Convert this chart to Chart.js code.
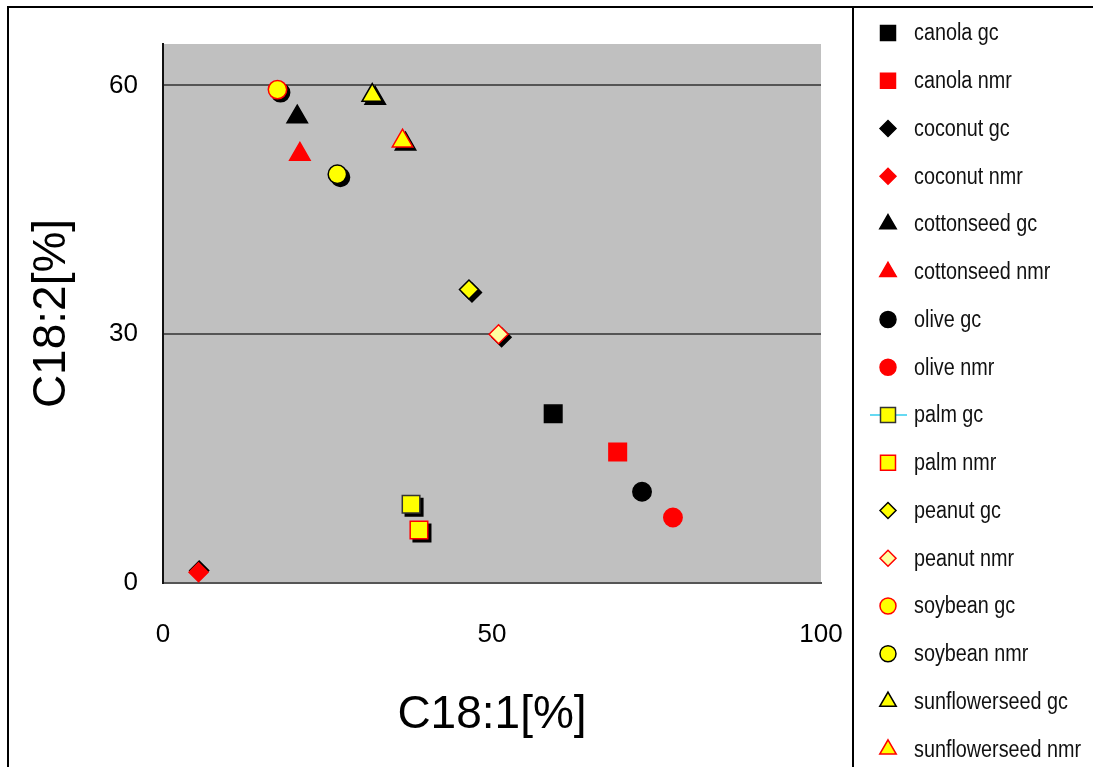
<!DOCTYPE html>
<html>
<head>
<meta charset="utf-8">
<script src="https://cdn.jsdelivr.net/npm/chart.js@4.4.1/dist/chart.umd.min.js"></script>
<style>
  html, body { margin: 0; padding: 0; background: #fff; }
  #wrap { width: 1093px; height: 767px; }
</style>
</head>
<body>
<div id="wrap"><canvas id="chart" width="1093" height="767"></canvas></div>
<script>
// series, in legend order
const seriesNames = [
    "canola gc", "canola nmr", "coconut gc", "coconut nmr",
    "cottonseed gc", "cottonseed nmr", "olive gc", "olive nmr",
    "palm gc", "palm nmr", "peanut gc", "peanut nmr",
    "soybean gc", "soybean nmr", "sunflowerseed gc", "sunflowerseed nmr"
];
// C18:1 [%] (x) and C18:2 [%] (y), one point per series
const c181 = [59.3, 69.1, 5.5, 5.4, 20.4, 20.8, 72.8, 77.5, 37.7, 38.9, 46.5, 51.0, 17.4, 26.5, 31.8, 36.4];
const c182 = [20.4, 15.8, 1.5, 1.3, 56.2, 51.7, 11.0, 7.9, 9.5, 6.4, 35.4, 30.0, 59.5, 49.3, 58.8, 53.3];
const xTicks = [0, 50, 100];
const yTicks = [0, 30, 60];

// marker look for each series
const styles = [
    { shape: "rect", fill: "#000000", edge: "#000000", shadow: false },
    { shape: "rect", fill: "#ff0000", edge: "#ff0000", shadow: false },
    { shape: "rectRot", fill: "#000000", edge: "#000000", shadow: false },
    { shape: "rectRot", fill: "#ff0000", edge: "#ff0000", shadow: false },
    { shape: "triangle", fill: "#000000", edge: "#000000", shadow: false },
    { shape: "triangle", fill: "#ff0000", edge: "#ff0000", shadow: false },
    { shape: "circle", fill: "#000000", edge: "#000000", shadow: false },
    { shape: "circle", fill: "#ff0000", edge: "#ff0000", shadow: false },
    { shape: "rect", fill: "#ffff00", edge: "#333333", shadow: true },
    { shape: "rect", fill: "#ffff00", edge: "#ff0000", shadow: true },
    { shape: "rectRot", fill: "#ffff00", edge: "#000000", shadow: true },
    { shape: "rectRot", fill: "#ffffa0", edge: "#ff0000", shadow: true },
    { shape: "circle", fill: "#ffff00", edge: "#ff0000", shadow: true },
    { shape: "circle", fill: "#ffff00", edge: "#000000", shadow: true },
    { shape: "triangle", fill: "#ffff00", edge: "#000000", shadow: true },
    { shape: "triangle", fill: "#ffff00", edge: "#ff0000", shadow: true }
];
const plotRadius = { rect: 12.4, rectRot: 9.5, triangle: 11.8, circle: 9.2 };
const legendRadius = { rect: 10.6, rectRot: 8, triangle: 9.5, circle: 8 };

const datasets = seriesNames.map((name, i) => ({
    label: name,
    data: [{ x: c181[i], y: c182[i] }],
    pointStyle: styles[i].shape,
    pointRadius: plotRadius[styles[i].shape],
    pointHoverRadius: plotRadius[styles[i].shape],
    backgroundColor: styles[i].fill,
    borderColor: styles[i].edge,
    pointBorderWidth: 1.5,
    showLine: false,
    shadow: styles[i].shadow,
    order: seriesNames.length - i  // later series on top
}));

// hard black drop shadow under the yellow markers:
// draw a black copy of the marker offset by 3px before the real one
const shadowPlugin = {
    id: "shadow",
    beforeDatasetDraw(chart, args) {
        const ds = chart.data.datasets[args.index];
        if (!ds.shadow) return;
        const ctx = chart.ctx;
        ctx.save();
        ctx.fillStyle = "#000";
        ctx.strokeStyle = "#000";
        ctx.lineWidth = 1.5;
        args.meta.data.forEach(pt => {
            Chart.helpers.drawPoint(ctx, {
                pointStyle: ds.pointStyle,
                radius: ds.pointRadius,
                rotation: 0,
                borderWidth: 1.5
            }, pt.x + 3, pt.y + 3);
        });
        ctx.restore();
    }
};

// grey plot area, outer frame and the legend box on the right
const framePlugin = {
    id: "frame",
    beforeDraw(chart) {
        const ctx = chart.ctx;
        const a = chart.chartArea;
        ctx.save();
        ctx.fillStyle = "#fff";
        ctx.fillRect(0, 0, chart.width, chart.height);
        ctx.fillStyle = "#c0c0c0";
        ctx.fillRect(a.left, a.top, a.right - a.left, a.bottom - a.top);
        ctx.restore();
    },
    afterDraw(chart) {
        const ctx = chart.ctx;
        ctx.save();
        ctx.strokeStyle = "#000";
        ctx.lineWidth = 2;
        ctx.beginPath();
        ctx.moveTo(8, chart.height);
        ctx.lineTo(8, 7);
        ctx.lineTo(chart.width, 7);
        ctx.moveTo(853, 7);
        ctx.lineTo(853, chart.height);
        ctx.stroke();

        // legend
        const x0 = 888, tx = 914, y0 = 33, step = 47.75;
        ctx.textBaseline = "middle";
        seriesNames.forEach((name, i) => {
            const y = y0 + i * step;
            const st = styles[i];
            if (name === "palm gc") {
                ctx.strokeStyle = "#33ccee";
                ctx.lineWidth = 1.5;
                ctx.beginPath();
                ctx.moveTo(870, y);
                ctx.lineTo(907, y);
                ctx.stroke();
            }
            ctx.fillStyle = st.fill;
            ctx.strokeStyle = st.edge;
            ctx.lineWidth = 1.5;
            Chart.helpers.drawPoint(ctx, {
                pointStyle: st.shape,
                radius: legendRadius[st.shape],
                rotation: 0,
                borderWidth: 1.5
            }, x0, y);
            // narrow-looking label: squeeze the text horizontally
            ctx.save();
            ctx.translate(tx, y + 1);
            ctx.scale(0.86, 1);
            ctx.font = "23px 'Liberation Sans', Arial, sans-serif";
            ctx.fillStyle = "#111";
            ctx.textAlign = "left";
            ctx.fillText(name, 0, 0);
            ctx.restore();
        });
        ctx.restore();
    }
};

const ctx = document.getElementById("chart").getContext("2d");
new Chart(ctx, {
    type: "scatter",
    data: { datasets: datasets },
    options: {
        responsive: false,
        animation: false,
        events: [],
        layout: {
            padding: { top: 44, right: 272, left: 0, bottom: 0 }
        },
        plugins: {
            legend: { display: false },
            tooltip: { enabled: false }
        },
        scales: {
            x: {
                type: "linear",
                min: 0,
                max: 100,
                afterBuildTicks: axis => { axis.ticks = xTicks.map(v => ({ value: v })); },
                afterFit: axis => { axis.height = 184; },
                grid: { drawOnChartArea: false, drawTicks: false },
                border: { color: "#555", width: 2 },
                ticks: {
                    color: "#000",
                    padding: 36,
                    font: { family: "'Liberation Sans', Arial, sans-serif", size: 26 }
                },
                title: {
                    display: true,
                    text: "C18:1[%]",
                    color: "#000",
                    padding: { top: 0, bottom: 24 },
                    font: { family: "'Liberation Sans', Arial, sans-serif", size: 46 }
                }
            },
            y: {
                type: "linear",
                min: 0,
                max: 65,
                afterBuildTicks: axis => { axis.ticks = yTicks.map(v => ({ value: v })); },
                afterFit: axis => { axis.width = 163; },
                grid: {
                    drawTicks: false,
                    lineWidth: 2,
                    color: c => (c.tick && c.tick.value === 0) ? "rgba(0,0,0,0)" : "#555"
                },
                border: { color: "#111", width: 2 },
                ticks: {
                    color: "#000",
                    padding: 25,
                    font: { family: "'Liberation Sans', Arial, sans-serif", size: 26 }
                },
                title: {
                    display: true,
                    text: "C18:2[%]",
                    color: "#000",
                    padding: { top: 25, bottom: 0 },
                    font: { family: "'Liberation Sans', Arial, sans-serif", size: 46 }
                }
            }
        }
    },
    plugins: [shadowPlugin, framePlugin]
});
</script>
</body>
</html>
